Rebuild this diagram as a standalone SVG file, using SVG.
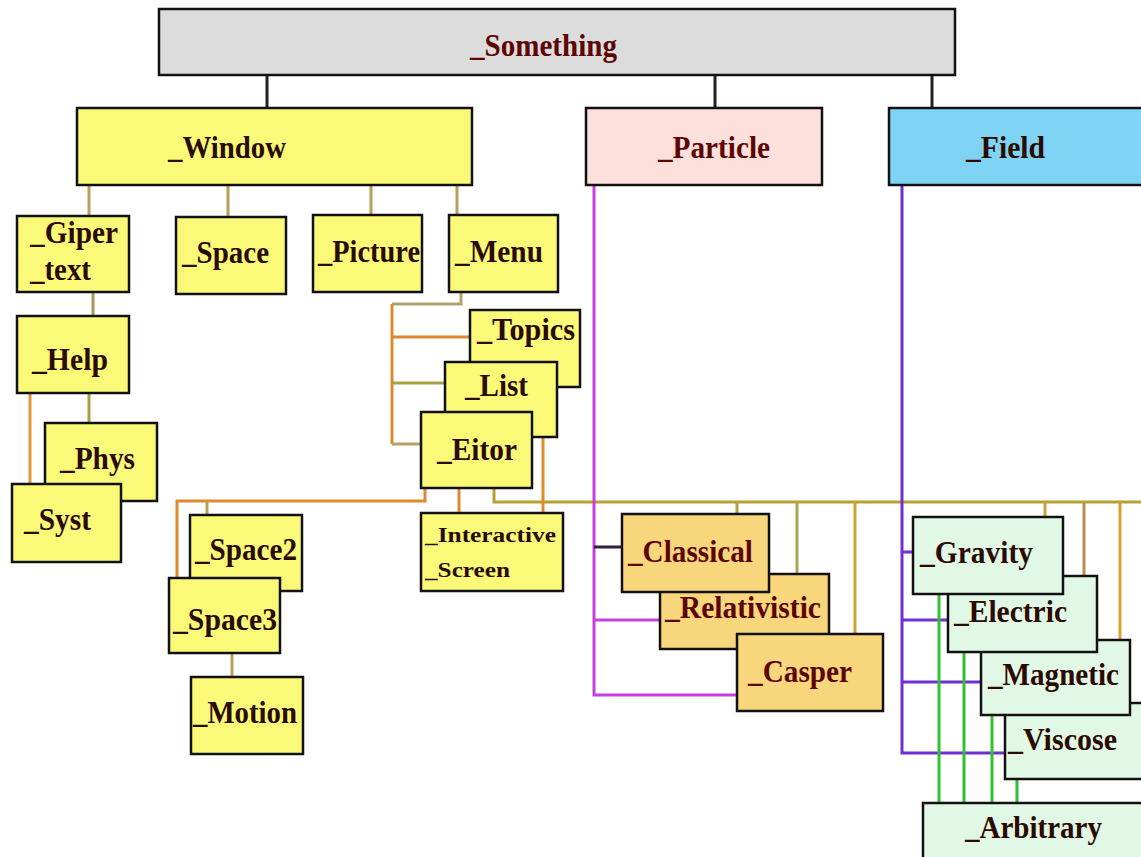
<svg xmlns="http://www.w3.org/2000/svg" width="1141" height="857" viewBox="0 0 1141 857">
<style>
text{font-family:"Liberation Serif","Times New Roman",serif;font-weight:bold;font-size:31px;fill:#2b0a00}
.red{fill:#5c0606}
.sm{font-size:22px}
rect{stroke:#111;stroke-width:2.5}
.y{fill:#fafa78}
.gy{fill:#dcdcdc}
.pk{fill:#fde0dc}
.bl{fill:#7fd4f5}
.or{fill:#f8d67c}
.gn{fill:#e2f8e6}
.c path{fill:none;stroke-width:3}
</style>
<rect width="1141" height="857" fill="#ffffff" style="stroke:none"/>
<g id="connectors" class="c">
  <path d="M267 75V108M715 75V108M932 75V108" stroke="#222"/>
  <path d="M89 185V216M228 185V217M371 185V215M457 185V215" stroke="#b8a05a"/>
  <path d="M93 292V316" stroke="#a89858"/>
  <path d="M30 393V485" stroke="#e0963c"/>
  <path d="M89 393V423" stroke="#a8a040"/>
  <path d="M461 292V304H392" stroke="#b0a070"/>
  <path d="M392 304V444" stroke="#dc8c30"/>
  <path d="M392 337H470" stroke="#d88830"/>
  <path d="M392 383H445" stroke="#a8a040"/>
  <path d="M392 444H421" stroke="#b8a060"/>
  <path d="M177 578V501H425V488" stroke="#dc8c2a"/>
  <path d="M207 501V515" stroke="#b8a05a"/>
  <path d="M232 653V677" stroke="#b8a05a"/>
  <path d="M494 488V502H1141" stroke="#b8a032"/>
  <path d="M459 488V513" stroke="#e08a30"/>
  <path d="M543 437V513" stroke="#e08a30"/>
  <path d="M737 502V514" stroke="#b0a040"/>
  <path d="M797 502V574" stroke="#a8a850"/>
  <path d="M855 502V634" stroke="#d0a030"/>
  <path d="M1045 502V517" stroke="#c8a040"/>
  <path d="M1084 502V576" stroke="#b89050"/>
  <path d="M1120 502V640" stroke="#d8a030"/>
  <path d="M594 185V695H737M594 620H660" stroke="#c640e0"/>
  <path d="M594 547H622" stroke="#302040"/>
  <path d="M902 185V753H1005M902 552H913M902 620H948M902 682H981" stroke="#7030d0"/>
  <path d="M939 594V803M964 652V803M992 715V803M1017 779V803" stroke="#30c030"/>
</g>
<g id="n-something"><rect class="gy" x="159" y="9" width="796" height="66"/><text class="red" x="470" y="56" textLength="147" lengthAdjust="spacingAndGlyphs">_Something</text></g>
<g id="n-window"><rect class="y" x="77" y="108" width="395" height="77"/><text x="168" y="158" textLength="118" lengthAdjust="spacingAndGlyphs">_Window</text></g>
<g id="n-particle"><rect class="pk" x="586" y="108" width="236" height="77"/><text class="red" x="658" y="158" textLength="112" lengthAdjust="spacingAndGlyphs">_Particle</text></g>
<g id="n-field"><rect class="bl" x="889" y="108" width="260" height="77"/><text fill="#1a0a1a" x="966" y="158" textLength="79" lengthAdjust="spacingAndGlyphs">_Field</text></g>
<g id="n-gipertext"><rect class="y" x="17" y="216" width="112" height="76"/><text x="30" y="243" textLength="88" lengthAdjust="spacingAndGlyphs">_Giper</text><text x="30" y="280" textLength="61" lengthAdjust="spacingAndGlyphs">_text</text></g>
<g id="n-space"><rect class="y" x="176" y="217" width="110" height="77"/><text x="182" y="263" textLength="87" lengthAdjust="spacingAndGlyphs">_Space</text></g>
<g id="n-picture"><rect class="y" x="313" y="215" width="109" height="77"/><text x="318" y="262" textLength="102" lengthAdjust="spacingAndGlyphs">_Picture</text></g>
<g id="n-menu"><rect class="y" x="449" y="215" width="109" height="77"/><text x="455" y="262" textLength="88" lengthAdjust="spacingAndGlyphs">_Menu</text></g>
<g id="n-help"><rect class="y" x="17" y="316" width="112" height="77"/><text x="32" y="370" textLength="76" lengthAdjust="spacingAndGlyphs">_Help</text></g>
<g id="n-phys"><rect class="y" x="45" y="423" width="112" height="78"/><text x="60" y="469" textLength="75" lengthAdjust="spacingAndGlyphs">_Phys</text></g>
<g id="n-syst"><rect class="y" x="12" y="484" width="109" height="78"/><text x="24" y="530" textLength="67" lengthAdjust="spacingAndGlyphs">_Syst</text></g>
<g id="n-topics"><rect class="y" x="470" y="310" width="110" height="77"/><text x="477" y="340" textLength="98" lengthAdjust="spacingAndGlyphs">_Topics</text></g>
<g id="n-list"><rect class="y" x="445" y="362" width="112" height="75"/><text x="465" y="396" textLength="63" lengthAdjust="spacingAndGlyphs">_List</text></g>
<g id="n-eitor"><rect class="y" x="421" y="412" width="111" height="76"/><text x="437" y="460" textLength="80" lengthAdjust="spacingAndGlyphs">_Eitor</text></g>
<g id="n-interactive"><rect class="y" x="421" y="513" width="142" height="78"/><text class="sm" x="425" y="542" textLength="131" lengthAdjust="spacingAndGlyphs">_Interactive</text><text class="sm" x="425" y="577" textLength="85" lengthAdjust="spacingAndGlyphs">_Screen</text></g>
<g id="n-space2"><rect class="y" x="190" y="515" width="112" height="76"/><text x="195" y="560" textLength="102" lengthAdjust="spacingAndGlyphs">_Space2</text></g>
<g id="n-space3"><rect class="y" x="169" y="578" width="111" height="75"/><text x="173" y="630" textLength="104" lengthAdjust="spacingAndGlyphs">_Space3</text></g>
<g id="n-motion"><rect class="y" x="191" y="677" width="112" height="77"/><text x="193" y="723" textLength="104" lengthAdjust="spacingAndGlyphs">_Motion</text></g>
<g id="n-relativistic"><rect class="or" x="660" y="574" width="169" height="75"/><text class="red" x="665" y="618" textLength="156" lengthAdjust="spacingAndGlyphs">_Relativistic</text></g>
<g id="n-classical"><rect class="or" x="622" y="514" width="147" height="78"/><text class="red" x="628" y="562" textLength="125" lengthAdjust="spacingAndGlyphs">_Classical</text></g>
<g id="n-casper"><rect class="or" x="737" y="634" width="146" height="77"/><text class="red" x="748" y="682" textLength="104" lengthAdjust="spacingAndGlyphs">_Casper</text></g>
<g id="n-arbitrary"><rect class="gn" x="923" y="803" width="230" height="70"/><text x="965" y="838" textLength="137" lengthAdjust="spacingAndGlyphs">_Arbitrary</text></g>
<g id="n-viscose"><rect class="gn" x="1005" y="703" width="150" height="76"/><text x="1008" y="750" textLength="109" lengthAdjust="spacingAndGlyphs">_Viscose</text></g>
<g id="n-magnetic"><rect class="gn" x="981" y="640" width="149" height="75"/><text x="988" y="685" textLength="131" lengthAdjust="spacingAndGlyphs">_Magnetic</text></g>
<g id="n-electric"><rect class="gn" x="948" y="576" width="149" height="76"/><text x="954" y="622" textLength="113" lengthAdjust="spacingAndGlyphs">_Electric</text></g>
<g id="n-gravity"><rect class="gn" x="913" y="517" width="150" height="77"/><text x="920" y="563" textLength="113" lengthAdjust="spacingAndGlyphs">_Gravity</text></g>
</svg>
